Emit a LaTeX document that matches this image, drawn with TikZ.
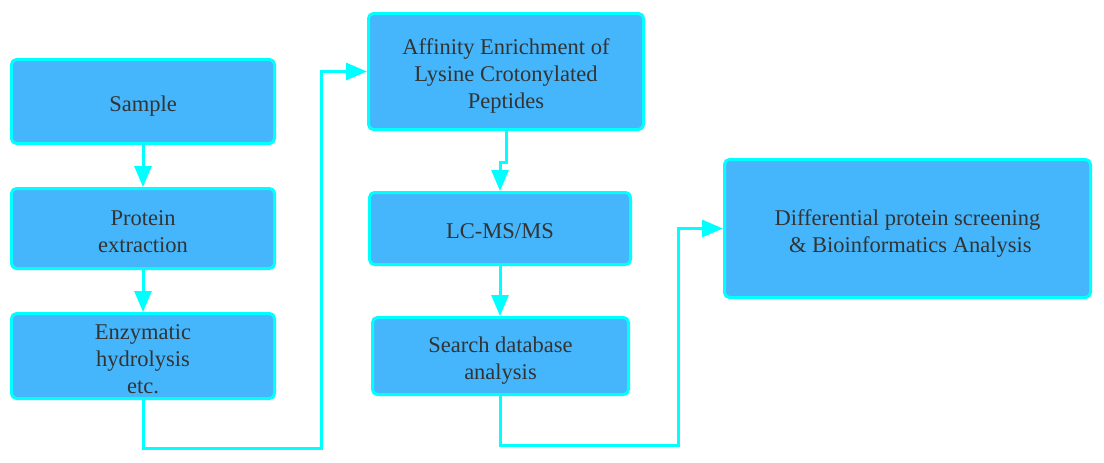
\documentclass[tikz,border=0pt]{standalone}
\usepackage{fontspec}
\newfontfamily\tnr{Liberation Serif}
\usetikzlibrary{arrows.meta}
\definecolor{boxfill}{RGB}{69,182,252}
\definecolor{boxline}{RGB}{0,255,255}
\definecolor{txt}{RGB}{51,51,51}
\newcommand{\boxlines}[1]{\raisebox{-5pt}[\height][\depth]{\begin{tabular}{@{}c@{}}#1\end{tabular}}}
\tikzset{
  stepbox/.style={rectangle, rounded corners=5pt, draw=boxline, line width=3pt,
    fill=boxfill, inner sep=0pt},
  steptext/.style={font=\tnr\fontsize{22.5pt}{27pt}\selectfont, text=txt, inner sep=0pt},
  conn/.style={draw=boxline, line width=3pt, -{Triangle[length=21pt,width=17pt]}}
}
\begin{document}
\begin{tikzpicture}[x=1pt,y=-1pt]
\useasboundingbox[fill=white] (0,0) rectangle (1104,463);
\node[stepbox, minimum width=263pt, minimum height=84pt] (smp) at (143,101.5) {};
\node[stepbox, minimum width=263pt, minimum height=80pt] (prot) at (143,228.5) {};
\node[stepbox, minimum width=263pt, minimum height=85pt] (enz) at (143,356) {};
\node[stepbox, minimum width=275pt, minimum height=116pt] (aff) at (506,71.5) {};
\node[stepbox, minimum width=261pt, minimum height=72pt] (lc) at (500,228.5) {};
\node[stepbox, minimum width=256pt, minimum height=77pt] (srch) at (500.5,356) {};
\node[stepbox, minimum width=366pt, minimum height=138pt] (diff) at (907.5,228.5) {};
\node[steptext] (smpt) at (smp.center) {\boxlines{Sample}};
\node[steptext] (prott) at (prot.center) {\boxlines{Protein\\extraction}};
\node[steptext] (enzt) at (enz.center) {\boxlines{Enzymatic\\hydrolysis\\etc.}};
\node[steptext] (afft) at (aff.center) {\boxlines{Affinity Enrichment of\\Lysine Crotonylated\\Peptides}};
\node[steptext] (lct) at (lc.center) {\boxlines{LC-MS/MS}};
\node[steptext] (srcht) at (srch.center) {\boxlines{Search database\\analysis}};
\node[steptext] (difft) at (diff.center) {\boxlines{Differential protein screening\\\ \& Bioinformatics Analysis}};
\draw[conn] (smp.south) -- (prot.north);
\draw[conn] (prot.south) -- (enz.north);
\draw[conn] (enz.south) -- ++(0,48) -| ([xshift=-46pt]aff.west) -- (aff.west);
\draw[conn] (aff.south) -- ++(0,31) -| (lc.north);
\draw[conn] (lc.south) -- (srch.north -| lc.south);
\draw[conn] (srch.south -| lc.south) -- ++(0,49) -| ([xshift=-45pt]diff.west) -- (diff.west);
\end{tikzpicture}
\end{document}
